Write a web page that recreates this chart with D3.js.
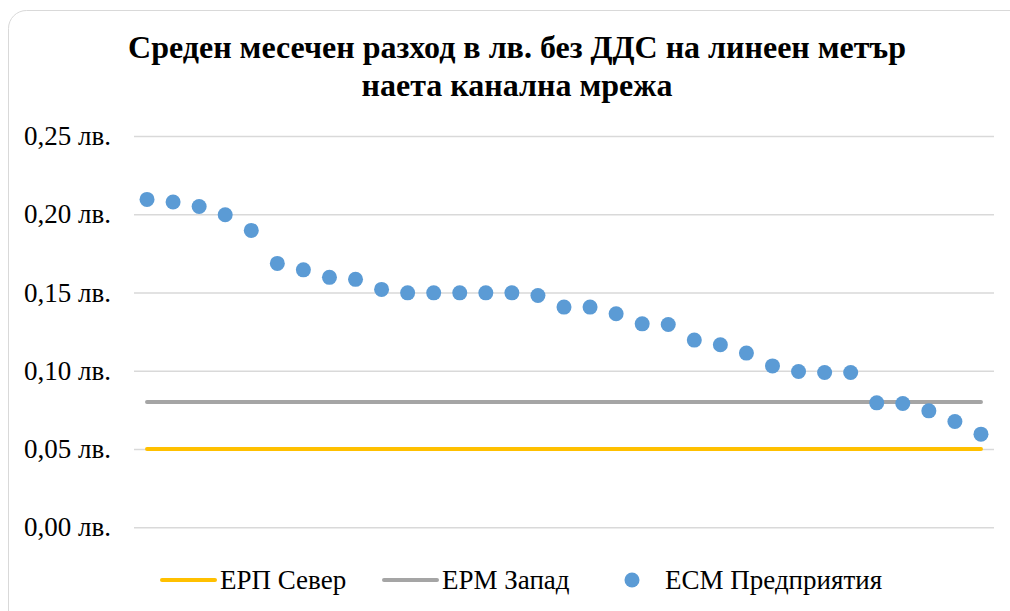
<!DOCTYPE html>
<html lang="bg">
<head>
  <meta charset="UTF-8" />
  <title>Среден месечен разход</title>
  <script src="https://d3js.org/d3.v7.min.js"></script>
  <style>
    body {
      margin: 0;
      background: #fff;
      font-family: 'Liberation Serif', 'Times New Roman', serif;
    }
  </style>
</head>
<body>
<svg width="1010" height="611"></svg>

<script>
// категории (предприятия) - без надписи по оста
const categories = d3.range(1, 34);
const esmValues = [
  0.2095, 0.2078, 0.2050, 0.1997, 0.1897, 0.1686, 0.1645, 0.1597, 0.1584, 0.1520,
  0.1498, 0.1498, 0.1498, 0.1498, 0.1498, 0.1481, 0.1407, 0.1407, 0.1364, 0.1300,
  0.1296, 0.1196, 0.1166, 0.1113, 0.1031, 0.0995, 0.0989, 0.0989, 0.0795, 0.0791,
  0.0744, 0.0676, 0.0595
];
const erpSever = 0.05;
const ermZapad = 0.08;
const yTicks = [0, 0.05, 0.10, 0.15, 0.20, 0.25];
const titleLines = ["Среден месечен разход в лв. без ДДС на линеен метър", "наета канална мрежа"];
const legendItems = [
  { name: "ЕРП Север", type: "line", color: "#FFC000" },
  { name: "ЕРМ Запад", type: "line", color: "#A5A5A5" },
  { name: "ЕСМ Предприятия", type: "dot", color: "#5B9BD5" }
];

const svg = d3.select("svg");
const plotLeft = 134, plotRight = 994;

// рамка на диаграмата
svg.append("rect")
  .attr("x", 8.5).attr("y", 10.5)
  .attr("width", 1030).attr("height", 640)
  .attr("rx", 18)
  .attr("fill", "#fff")
  .attr("stroke", "#d9d9d9");

svg.selectAll("text.title")
  .data(titleLines)
  .enter()
  .append("text")
  .attr("class", "title")
  .attr("x", 517)
  .attr("y", (d, i) => 58 + i * 38)
  .attr("text-anchor", "middle")
  .attr("font-size", 32)
  .attr("font-weight", "bold")
  .text(d => d);

const x = d3.scaleBand()
  .domain(categories)
  .range([plotLeft, plotRight]);

const y = d3.scaleLinear()
  .domain([0, 0.25])
  .range([527.3, 136]);

const fmt = v => d3.format(".2f")(v).replace(".", ",") + " лв.";

const yAxis = d3.axisLeft(y)
  .tickValues(yTicks)
  .tickSize(-(plotRight - plotLeft))
  .tickPadding(23)
  .tickFormat(fmt);

const gy = svg.append("g")
  .attr("transform", `translate(${plotLeft},0)`)
  .call(yAxis);
gy.select(".domain").remove();
gy.selectAll(".tick line").attr("stroke", "#d9d9d9").attr("stroke-width", 1.5);
gy.selectAll(".tick text")
  .attr("font-family", "'Liberation Serif', serif")
  .attr("font-size", 27)
  .attr("fill", "#000");

const cx = d => x(d) + x.bandwidth() / 2;
const first = categories[0], last = categories[categories.length - 1];

const refLine = (val, color) => svg.append("line")
  .attr("x1", cx(first)).attr("x2", cx(last))
  .attr("y1", y(val)).attr("y2", y(val))
  .attr("stroke", color)
  .attr("stroke-width", 4)
  .attr("stroke-linecap", "round");

refLine(ermZapad, "#A5A5A5");
refLine(erpSever, "#FFC000");

svg.selectAll("circle.pt")
  .data(esmValues)
  .enter()
  .append("circle")
  .attr("class", "pt")
  .attr("cx", (d, i) => cx(categories[i]))
  .attr("cy", d => y(d))
  .attr("r", 7.5)
  .attr("fill", "#5B9BD5");

// легенда
const legendX = [162, 384, 632];
const legend = svg.selectAll("g.legend")
  .data(legendItems)
  .enter()
  .append("g")
  .attr("class", "legend")
  .attr("transform", (d, i) => `translate(${legendX[i]},580)`);

legend.filter(d => d.type === "line")
  .append("line")
  .attr("x1", 0).attr("x2", 53)
  .attr("stroke", d => d.color)
  .attr("stroke-width", 4)
  .attr("stroke-linecap", "round");
legend.filter(d => d.type === "line")
  .append("text")
  .attr("x", 58).attr("y", 9)
  .attr("font-size", 27)
  .text(d => d.name);

legend.filter(d => d.type === "dot")
  .append("circle")
  .attr("r", 7.5)
  .attr("fill", d => d.color);
legend.filter(d => d.type === "dot")
  .append("text")
  .attr("x", 33).attr("y", 9)
  .attr("font-size", 27)
  .text(d => d.name);
</script>
</body>
</html>
